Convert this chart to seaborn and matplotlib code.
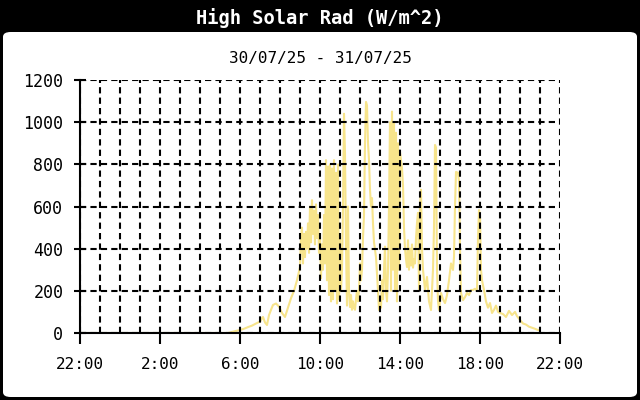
import numpy as np
import pandas as pd
import matplotlib
matplotlib.use("Agg")
import matplotlib.pyplot as plt
import seaborn as sns
from matplotlib.patches import FancyBboxPatch

# hours since 22:00 on 30/07/25
hours = [
    0.00, 7.40, 7.60, 7.80, 8.00, 8.20, 8.40, 8.60, 8.80, 9.00, 9.10, 9.15, 9.25, 9.35, 9.45,
    9.55, 9.65, 9.80, 9.95, 10.10, 10.25, 10.40, 10.55, 10.70, 10.85, 11.00, 11.05, 11.10,
    11.15, 11.20, 11.25, 11.30, 11.35, 11.40, 11.45, 11.50, 11.55, 11.60, 11.65, 11.70, 11.75,
    11.80, 11.85, 11.90, 11.95, 12.00, 12.05, 12.10, 12.15, 12.20, 12.25, 12.30, 12.35, 12.40,
    12.45, 12.50, 12.55, 12.60, 12.65, 12.70, 12.75, 12.80, 12.85, 12.90, 12.95, 13.00, 13.05,
    13.10, 13.15, 13.20, 13.25, 13.30, 13.35, 13.40, 13.45, 13.50, 13.55, 13.60, 13.65, 13.70,
    13.75, 13.80, 13.85, 13.90, 13.95, 14.00, 14.05, 14.10, 14.15, 14.20, 14.25, 14.30, 14.35,
    14.40, 14.45, 14.50, 14.55, 14.60, 14.65, 14.70, 14.75, 14.80, 14.85, 14.90, 14.95, 15.00,
    15.05, 15.10, 15.15, 15.20, 15.25, 15.30, 15.35, 15.40, 15.45, 15.50, 15.55, 15.60, 15.65,
    15.70, 15.75, 15.80, 15.85, 15.90, 15.95, 16.00, 16.05, 16.10, 16.15, 16.20, 16.25, 16.30,
    16.35, 16.40, 16.45, 16.50, 16.55, 16.60, 16.65, 16.70, 16.75, 16.80, 16.85, 16.90, 16.95,
    17.00, 17.05, 17.10, 17.15, 17.20, 17.25, 17.35, 17.45, 17.55, 17.65, 17.70, 17.75, 17.80,
    17.85, 17.90, 17.95, 18.05, 18.15, 18.25, 18.35, 18.45, 18.55, 18.65, 18.70, 18.75, 18.80,
    18.90, 18.95, 19.00, 19.05, 19.15, 19.25, 19.35, 19.45, 19.55, 19.65, 19.75, 19.85, 19.90,
    19.95, 20.00, 20.05, 20.10, 20.20, 20.30, 20.40, 20.50, 20.60, 20.70, 20.80, 20.90, 21.00,
    21.15, 21.30, 21.45, 21.60, 21.75, 21.85, 22.00, 22.15, 22.30, 22.45, 22.60, 22.75, 22.90,
    23.00,
]
solar_rad = [
    0, 0, 5, 10, 14, 20, 28, 35, 45, 54, 70, 76, 50, 38, 85,
    110, 133, 140, 125, 95, 76, 120, 165, 200, 250, 313, 450, 500,
    330, 470, 360, 480, 400, 520, 380, 600, 430, 630, 470, 580, 420,
    610, 450, 560, 380, 470, 260, 420, 300, 560, 330, 820, 250, 790,
    180, 800, 150, 780, 160, 820, 200, 760, 140, 800, 160, 450, 200,
    300, 600, 1040, 850, 400, 130, 600, 200, 123, 180, 110, 150, 120,
    110, 160, 200, 150, 200, 330, 250, 300, 450, 560, 900, 1096, 1080,
    900, 820, 680, 600, 640, 520, 430, 394, 360, 280, 200, 109, 150,
    120, 250, 160, 300, 410, 200, 150, 300, 600, 1000, 200, 1050, 300,
    1000, 200, 950, 150, 900, 300, 860, 820, 780, 700, 500, 400, 350,
    313, 440, 300, 400, 320, 420, 310, 350, 330, 450, 520, 570, 204,
    600, 680, 400, 300, 250, 204, 266, 150, 109, 300, 500, 892, 880,
    300, 150, 109, 190, 160, 142, 180, 250, 330, 299, 360, 600, 764,
    760, 720, 400, 190, 156, 170, 190, 180, 204, 204, 210, 200, 450,
    583, 560, 300, 250, 204, 150, 120, 142, 95, 110, 130, 100, 95,
    90, 76, 105, 85, 100, 80, 62, 45, 40, 30, 25, 20, 14,
    12,
]

x_ticks = [0, 4, 8, 12, 16, 20, 24]
x_labels = ["22:00", "2:00", "6:00", "10:00", "14:00", "18:00", "22:00"]
y_ticks = [0, 200, 400, 600, 800, 1000, 1200]

title = "High Solar Rad (W/m^2)"
subtitle = "30/07/25 - 31/07/25"

sns.set_style("white")
plt.rcParams["font.family"] = ["DejaVu Sans Mono", "DejaVu Sans"]

df = pd.DataFrame({"hours": hours, "rad": solar_rad})

fig = plt.figure(figsize=(6.4, 4.0), dpi=100, facecolor="black")

# white rounded panel behind the axes
panel = FancyBboxPatch(
    (3 / 640, 3 / 400), 634 / 640, 365 / 400,
    boxstyle="round,pad=0,rounding_size=0.012",
    transform=fig.transFigure, facecolor="white", edgecolor="none", zorder=-5
)
fig.patches.append(panel)

fig.text(0.5, 1 - 17.5 / 400, title, color="white", fontsize=13.5,
         fontweight="bold", ha="center", va="center")
fig.text(0.5, 1 - 58 / 400, subtitle, color="black", fontsize=11.5,
         ha="center", va="center")

ax = fig.add_axes([80 / 640, 1 - 333 / 400, 480 / 640, 253 / 400])
ax.set_facecolor("white")

sns.lineplot(data=df, x="hours", y="rad", ax=ax, color="#f7e48b",
             linewidth=1.5, zorder=2)

ax.set_xlim(0, 24)
ax.set_ylim(0, 1200)
ax.set_xticks(x_ticks)
ax.set_xticklabels(x_labels)
ax.set_xticks(range(0, 25), minor=True)
ax.set_yticks(y_ticks)
ax.set_xlabel("")
ax.set_ylabel("")

ax.grid(True, which="both", axis="x", color="black", linestyle=(0, (3, 2)),
        linewidth=1.5, zorder=3)
ax.grid(True, which="major", axis="y", color="black", linestyle=(0, (3, 2)),
        linewidth=1.5, zorder=3)
ax.set_axisbelow(False)

for s in ["top", "right"]:
    ax.spines[s].set_visible(False)
for s in ["left", "bottom"]:
    ax.spines[s].set_color("black")
    ax.spines[s].set_linewidth(1.5)
    ax.spines[s].set_zorder(4)

ax.tick_params(axis="x", which="major", bottom=True, direction="out", length=8,
               width=1.5, pad=9.5, labelsize=11.5, colors="black")
ax.tick_params(axis="x", which="minor", bottom=False, length=0)
ax.tick_params(axis="y", which="major", left=True, direction="inout", length=8,
               width=1.5, pad=8, labelsize=12, colors="black")

fig.savefig("out.png", dpi=100, facecolor="black")
